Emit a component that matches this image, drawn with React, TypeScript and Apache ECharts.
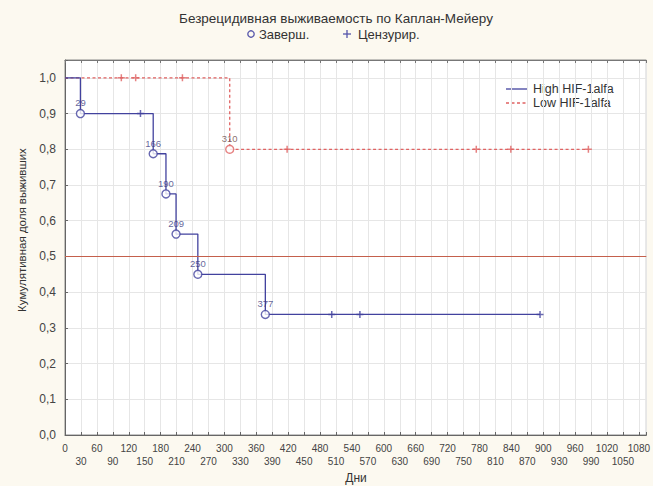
import React, { useEffect, useRef } from 'react';
import * as echarts from 'echarts';

const chartTitle = 'Безрецидивная выживаемость по Каплан-Мейеру';
const legendEventText = 'Заверш.';
const legendCensText = 'Цензурир.';
const xAxisTitle = 'Дни';
const yAxisTitle = 'Кумулятивная доля выживших';
const groupNames = ['High HIF-1alfa', 'Low HIF-1alfa'];

// High HIF-1alfa
const highStepTimes = [0, 29, 166, 190, 209, 250, 377, 894];
const highStepValues = [1.0, 0.9, 0.7875, 0.675, 0.5625, 0.45, 0.3375, 0.3375];
const highEventTimes = [29, 166, 190, 209, 250, 377];
const highEventValues = [0.9, 0.7875, 0.675, 0.5625, 0.45, 0.3375];
const highCensTimes = [142, 502, 555, 894];
const highCensValues = [0.9, 0.3375, 0.3375, 0.3375];

// Low HIF-1alfa
const lowStepTimes = [0, 310, 985];
const lowStepValues = [1.0, 0.8, 0.8];
const lowEventTimes = [310];
const lowEventValues = [0.8];
const lowCensTimes = [106, 133, 221, 418, 774, 839, 985];
const lowCensValues = [1.0, 1.0, 1.0, 0.8, 0.8, 0.8, 0.8];

const referenceLevel = 0.5;

const FONT = '"Liberation Sans", Arial, sans-serif';
const BLUE = '#42429e';
const RED = '#e06262';
const PLUS = 'path://M5,0 L5,10 M0,5 L10,5';

const zip = (a: number[], b: number[]) => a.map((v, i) => [v, b[i]]);

export default function App() {
  const ref = useRef<HTMLDivElement>(null);
  useEffect(() => {
    if (!ref.current) return;
    const chart = echarts.init(ref.current, null, { renderer: 'svg' });
    const xLabel = (v: number) => {
      if (v % 60 === 0) return String(v);
      if (v % 30 === 0) return '\n' + v;
      return '';
    };
    const yLabel = (v: number) => {
      if (Math.abs(v * 10 - Math.round(v * 10)) > 1e-6) return '';
      return v.toFixed(1).replace('.', ',');
    };
    chart.setOption({
      animation: false,
      backgroundColor: '#fcf9f0',
      textStyle: { fontFamily: FONT },
      grid: {
        left: 65, right: 1, top: 60, bottom: 51,
        show: true, backgroundColor: '#ffffff', borderColor: '#8a8a8a', borderWidth: 1,
      },
      xAxis: [
        {
          type: 'value', min: 0, max: 1094, interval: 30, position: 'bottom',
          axisLine: { show: true, lineStyle: { color: '#666' } },
          axisTick: { show: true, inside: true, length: 3, lineStyle: { color: '#666' } },
          axisLabel: { formatter: xLabel, fontSize: 10, color: '#444', margin: 7, lineHeight: 13 },
          splitLine: { show: true, lineStyle: { color: '#e6e6e6', width: 1 } },
        },
        {
          type: 'value', min: 0, max: 1094, interval: 30, position: 'top',
          axisLine: { show: true, lineStyle: { color: '#777' } },
          axisTick: { show: true, inside: true, length: 3, lineStyle: { color: '#777' } },
          axisLabel: { show: false },
          splitLine: { show: false },
        },
      ],
      yAxis: {
        type: 'value', min: 0, max: 1.05, interval: 0.1,
        axisLine: { show: true, lineStyle: { color: '#666' } },
        axisTick: { show: true, inside: true, length: 3, lineStyle: { color: '#666' } },
        axisLabel: { formatter: yLabel, fontSize: 12, color: '#444', margin: 9 },
        splitLine: { show: true, lineStyle: { color: '#e6e6e6', width: 1 } },
      },
      series: [
        {
          name: groupNames[0], type: 'line', step: 'end', symbol: 'none',
          data: zip(highStepTimes, highStepValues),
          lineStyle: { color: BLUE, width: 1.3 }, itemStyle: { color: BLUE },
          z: 3,
          markLine: {
            silent: true, symbol: ['none', 'none'], label: { show: false },
            lineStyle: { color: '#c4604c', width: 1.2, type: 'solid' },
            data: [{ yAxis: referenceLevel }],
          },
        },
        {
          name: groupNames[1], type: 'line', step: 'end', symbol: 'none',
          data: zip(lowStepTimes, lowStepValues),
          lineStyle: { color: RED, width: 1.3, type: [3, 2.5] }, itemStyle: { color: RED },
          z: 2,
        },
        {
          type: 'scatter', data: zip(highEventTimes, highEventValues),
          symbol: 'circle', symbolSize: 8,
          itemStyle: { color: '#ffffff', borderColor: BLUE, borderWidth: 1.4 },
          label: { show: true, position: 'top', distance: 1, fontSize: 9.5, color: '#3a3a80', formatter: (p: any) => String(p.value[0]) },
          z: 5,
        },
        {
          type: 'scatter', data: zip(highCensTimes, highCensValues),
          symbol: PLUS, symbolSize: 7,
          itemStyle: { color: 'none', borderColor: BLUE, borderWidth: 1.5 },
          z: 5,
        },
        {
          type: 'scatter', data: zip(lowEventTimes, lowEventValues),
          symbol: 'circle', symbolSize: 8,
          itemStyle: { color: '#ffffff', borderColor: RED, borderWidth: 1.4 },
          label: { show: true, position: 'top', distance: 1, fontSize: 9.5, color: '#6a4848', formatter: (p: any) => String(p.value[0]) },
          z: 5,
        },
        {
          type: 'scatter', data: zip(lowCensTimes, lowCensValues),
          symbol: PLUS, symbolSize: 7,
          itemStyle: { color: 'none', borderColor: RED, borderWidth: 1.5 },
          z: 5,
        },
      ],
      graphic: [
        { type: 'text', x: 336, y: 18, style: { text: chartTitle, font: `13.5px ${FONT}`, fill: '#333', textAlign: 'center', textVerticalAlign: 'middle' } },
        { type: 'circle', shape: { cx: 251, cy: 34, r: 3.2 }, style: { fill: 'none', stroke: '#5555aa', lineWidth: 1.3 } },
        { type: 'text', x: 259, y: 34, style: { text: legendEventText, font: `13px ${FONT}`, fill: '#333', textAlign: 'left', textVerticalAlign: 'middle' } },
        { type: 'line', shape: { x1: 343, y1: 34, x2: 351, y2: 34 }, style: { stroke: '#5555aa', lineWidth: 1.3 } },
        { type: 'line', shape: { x1: 347, y1: 30, x2: 347, y2: 38 }, style: { stroke: '#5555aa', lineWidth: 1.3 } },
        { type: 'text', x: 358, y: 34, style: { text: legendCensText, font: `13px ${FONT}`, fill: '#333', textAlign: 'left', textVerticalAlign: 'middle' } },
        // in-plot legend
        { type: 'line', shape: { x1: 506, y1: 89, x2: 527, y2: 89 }, style: { stroke: BLUE, lineWidth: 1.3 } },
        { type: 'text', x: 533, y: 89, style: { text: groupNames[0], font: `12.5px ${FONT}`, fill: '#333', textAlign: 'left', textVerticalAlign: 'middle' } },
        { type: 'line', shape: { x1: 506, y1: 103, x2: 527, y2: 103 }, style: { stroke: RED, lineWidth: 1.3, lineDash: [3, 2.5] } },
        { type: 'text', x: 533, y: 103, style: { text: groupNames[1], font: `12.5px ${FONT}`, fill: '#333', textAlign: 'left', textVerticalAlign: 'middle' } },
        { type: 'text', x: 356, y: 478, style: { text: xAxisTitle, font: `12px ${FONT}`, fill: '#333', textAlign: 'center', textVerticalAlign: 'middle' } },
        { type: 'text', x: 22, y: 230, rotation: Math.PI / 2, style: { text: yAxisTitle, font: `11.5px ${FONT}`, fill: '#333', textAlign: 'center', textVerticalAlign: 'middle' } },
      ],
    });
    return () => chart.dispose();
  }, []);
  return <div ref={ref} style={{ position: 'fixed', left: 0, top: 0, width: 653, height: 486 }} />;
}
